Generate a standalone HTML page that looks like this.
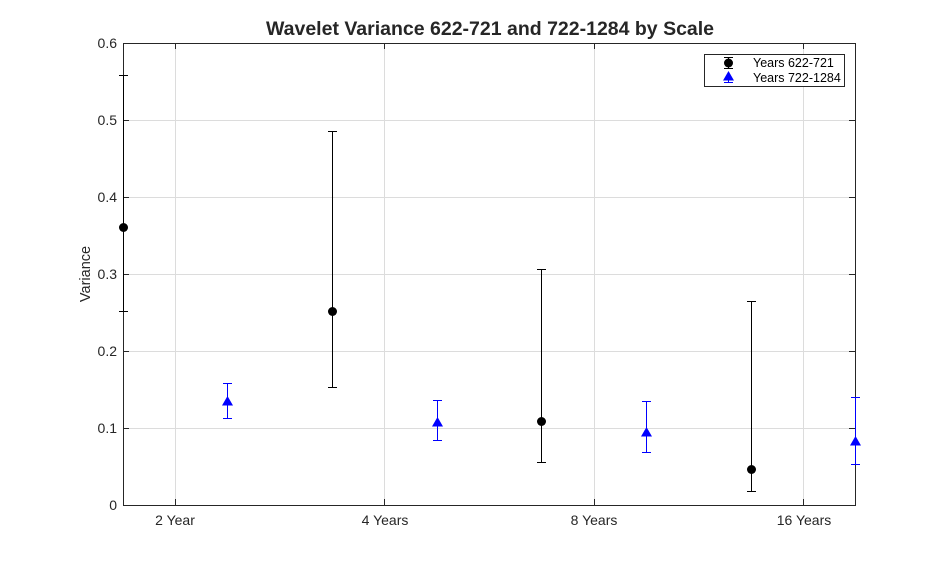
<!DOCTYPE html>
<html><head><meta charset="utf-8"><style>body{margin:0;background:#fff}svg{display:block}text{font-family:"Liberation Sans",sans-serif}</style></head><body>
<svg width="946" height="569" xmlns="http://www.w3.org/2000/svg">
<rect width="946" height="569" fill="#fff"/>
<g stroke="#dcdcdc" stroke-width="1">
<line x1="175.5" y1="43" x2="175.5" y2="505"/><line x1="384.5" y1="43" x2="384.5" y2="505"/><line x1="594.5" y1="43" x2="594.5" y2="505"/><line x1="803.5" y1="43" x2="803.5" y2="505"/>
<line x1="123" y1="428.5" x2="855" y2="428.5"/><line x1="123" y1="351.5" x2="855" y2="351.5"/><line x1="123" y1="274.5" x2="855" y2="274.5"/><line x1="123" y1="197.5" x2="855" y2="197.5"/><line x1="123" y1="120.5" x2="855" y2="120.5"/>
</g>
<rect x="123.5" y="43.5" width="732" height="462" fill="none" stroke="#262626"/>
<g stroke="#262626">
<line x1="175.5" y1="505" x2="175.5" y2="499"/><line x1="384.5" y1="505" x2="384.5" y2="499"/><line x1="594.5" y1="505" x2="594.5" y2="499"/><line x1="803.5" y1="505" x2="803.5" y2="499"/>
<line x1="175.5" y1="43" x2="175.5" y2="49"/><line x1="384.5" y1="43" x2="384.5" y2="49"/><line x1="594.5" y1="43" x2="594.5" y2="49"/><line x1="803.5" y1="43" x2="803.5" y2="49"/>
<line x1="123" y1="428.5" x2="129" y2="428.5"/><line x1="123" y1="351.5" x2="129" y2="351.5"/><line x1="123" y1="274.5" x2="129" y2="274.5"/><line x1="123" y1="197.5" x2="129" y2="197.5"/><line x1="123" y1="120.5" x2="129" y2="120.5"/>
<line x1="855" y1="428.5" x2="849" y2="428.5"/><line x1="855" y1="351.5" x2="849" y2="351.5"/><line x1="855" y1="274.5" x2="849" y2="274.5"/><line x1="855" y1="197.5" x2="849" y2="197.5"/><line x1="855" y1="120.5" x2="849" y2="120.5"/>
</g>
<g font-size="14" fill="#262626" text-anchor="end">
<text x="117" y="510">0</text><text x="117" y="433">0.1</text><text x="117" y="356">0.2</text><text x="117" y="279">0.3</text><text x="117" y="202">0.4</text><text x="117" y="125">0.5</text><text x="117" y="48">0.6</text>
</g>
<g font-size="14" fill="#262626" text-anchor="middle">
<text x="175" y="525">2 Year</text><text x="385" y="525">4 Years</text><text x="594" y="525">8 Years</text><text x="804" y="525">16 Years</text>
<text transform="translate(90,274) rotate(-90)" font-size="14.5">Variance</text>
<text x="490" y="35" font-size="19.5" font-weight="bold">Wavelet Variance 622-721 and 722-1284 by Scale</text>
</g>
<g stroke="#000" fill="none">
<path d="M123.5 75.5V311.5M119 75.5H128M119 311.5H128"/>
<path d="M332.5 131.5V387.5M328 131.5H337M328 387.5H337"/>
<path d="M541.5 269.5V462.5M537 269.5H546M537 462.5H546"/>
<path d="M751.5 301.5V491.5M747 301.5H756M747 491.5H756"/>
</g>
<g fill="#000"><circle cx="123.5" cy="227.5" r="4.5"/><circle cx="332.5" cy="311.5" r="4.5"/><circle cx="541.5" cy="421.5" r="4.5"/><circle cx="751.5" cy="469.5" r="4.5"/></g>
<g stroke="#00f" fill="none">
<path d="M227.5 383.5V418.5M223 383.5H232M223 418.5H232"/>
<path d="M437.5 400.5V440.5M433 400.5H442M433 440.5H442"/>
<path d="M646.5 401.5V452.5M642 401.5H651M642 452.5H651"/>
<path d="M855.5 397.5V464.5M851 397.5H860M851 464.5H860"/>
</g>
<g fill="#00f"><path d="M227.5 396L233 405.5H222Z"/><path d="M437.5 417L443 426.5H432Z"/><path d="M646.5 427L652 436.5H641Z"/><path d="M855.5 436L861 445.5H850Z"/></g>
<rect x="704.5" y="54.5" width="140" height="32" fill="#fff" stroke="#262626"/>
<path d="M724 57.5H733M728.5 57.5V68.5M724 68.5H733" stroke="#000"/><circle cx="728.5" cy="63" r="4.5"/>
<path d="M724 82.5H733M728.5 72V82.5" stroke="#00f"/><path d="M728.5 71L734 80.5H723Z" fill="#00f"/>
<g font-size="12.5" fill="#000"><text x="753" y="67">Years 622-721</text><text x="753" y="82">Years 722-1284</text></g>
</svg>
</body></html>
